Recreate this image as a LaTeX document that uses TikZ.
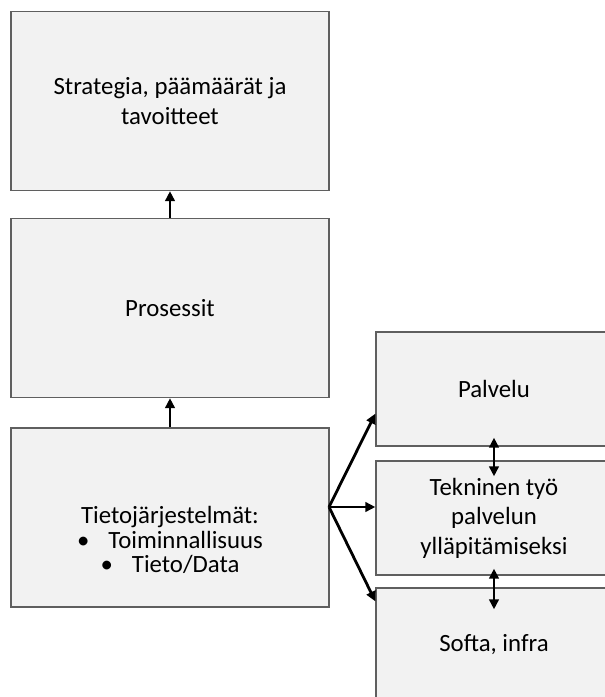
\documentclass[tikz,border=0pt]{standalone}
\usepackage{fontspec}
\setmainfont{Carlito}
\usetikzlibrary{arrows.meta,calc}
\definecolor{boxfill}{HTML}{F2F2F2}
\definecolor{boxline}{HTML}{5F5F5F}
\begin{document}
\begin{tikzpicture}[x=1pt,y=-1pt,
  box/.style={draw=boxline, fill=boxfill, line width=1.3pt, inner sep=0pt,
    align=center, font=\fontsize{24.8}{29.5}\selectfont},
  leftbox/.style={box, minimum width=318pt, minimum height=179pt},
  rightbox/.style={box, minimum width=236pt, minimum height=114pt},
  link/.style={line width=2.8pt, -{Triangle[length=10pt,width=9.5pt]}},
  twoway/.style={line width=2.8pt, {Triangle[length=10pt,width=9.5pt]}-{Triangle[length=10pt,width=9.5pt]}}]
\clip (0,0) rectangle (605,697);
\fill[white] (0,0) rectangle (605,697);

% left column
\node[leftbox] (goals) at (170,101) {Strategia, päämäärät ja\\tavoitteet};
\node[leftbox] (proc) at (170,308) {Prosessit};
\node[leftbox] (sys) at (170,517.5) {};
\node[align=center, inner sep=0pt, font=\fontsize{24.8}{24.5}\selectfont] (systext) at (170,540)
  {Tietojärjestelmät:\\ •\hspace{19pt}Toiminnallisuus\\ •\hspace{19pt}Tieto/Data};

% right column
\node[rightbox] (svc) at (494,389) {Palvelu};
\node[rightbox] (tech) at (494,518) {Tekninen työ\\palvelun\\ylläpitämiseksi};
\node[rightbox] (sw) at (494,645) {Softa, infra};

% connectors
\draw[link] (proc.north) -- (goals.south);
\draw[link] (sys.north) -- (proc.south);
\coordinate (fan) at (329,507);
\draw[link] (fan) -- ($(svc.south west)+(0,-33)$);
\draw[link] (fan) -- (tech.west |- fan);
\draw[link] (fan) -- ($(sw.north west)+(0,14)$);
\draw[twoway] ($(svc.south)+(0,-9)$) -- ($(tech.north)+(0,16)$);
\draw[twoway] ($(tech.south)+(0,-7)$) -- ($(sw.north)+(0,22)$);
\end{tikzpicture}
\end{document}
